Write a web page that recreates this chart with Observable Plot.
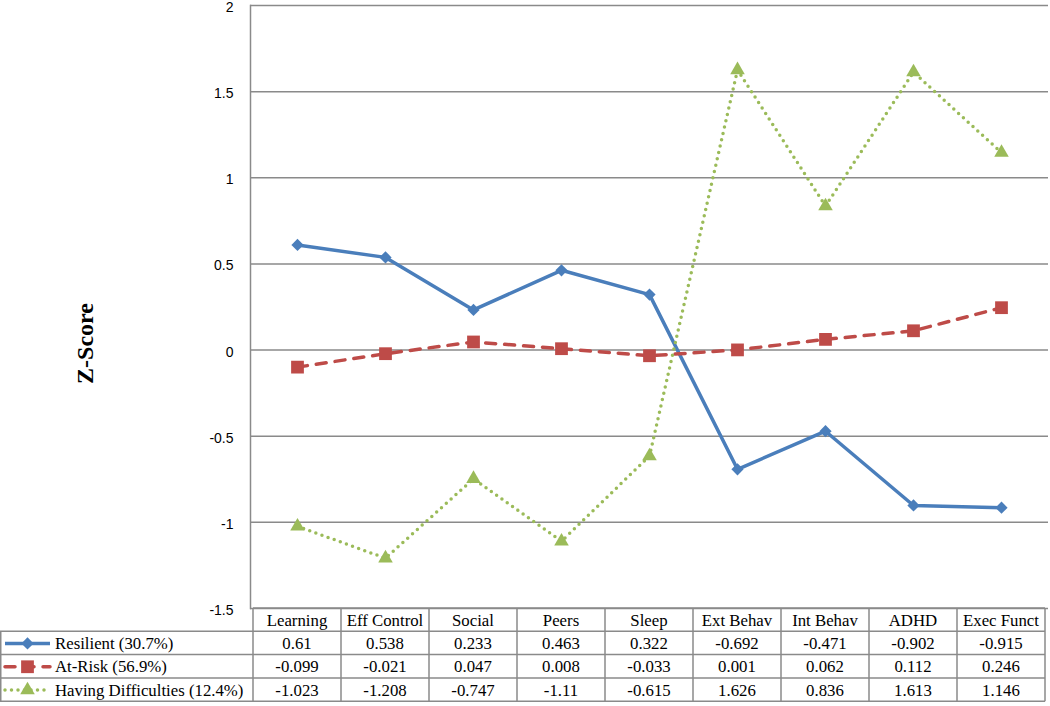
<!DOCTYPE html>
<html><head><meta charset="utf-8">
<script src="https://cdn.jsdelivr.net/npm/d3@7"></script>
<script src="https://cdn.jsdelivr.net/npm/@observablehq/plot@0.6"></script>
<style>body{margin:0;background:#fff} #chart{width:1050px;height:706px}</style>
</head><body><div id="chart"></div>
<script>
const categories = ["Learning","Eff Control","Social","Peers","Sleep","Ext Behav","Int Behav","ADHD","Exec Funct"];
const resilient = [0.61,0.538,0.233,0.463,0.322,-0.692,-0.471,-0.902,-0.915];
const atRisk = [-0.099,-0.021,0.047,0.008,-0.033,0.001,0.062,0.112,0.246];
const difficulties = [-1.023,-1.208,-0.747,-1.11,-0.615,1.626,0.836,1.613,1.146];
const seriesNames = ["Resilient (30.7%)","At-Risk (56.9%)","Having Difficulties (12.4%)"];
const yTicks = [-1.5,-1,-0.5,0,0.5,1,1.5,2];
const yLabel = "Z-Score";

const seriesValues = [resilient, atRisk, difficulties];
const seriesColors = ["#4a7ebb","#be4b48","#9bbb59"];
const seriesSymbols = ["diamond2","square","triangle"];
const symbolTypes = [d3.symbolDiamond2, d3.symbolSquare, d3.symbolTriangle];
const lineStyles = [
  {strokeWidth:3.5},
  {strokeWidth:3.5, strokeDasharray:"10,9", strokeLinecap:"round"},
  {strokeWidth:3.5, strokeDasharray:"0,6.5", strokeLinecap:"round"}
];
const dotR = [5.5, 7.2, 5.4];
const serif = "Liberation Serif, Times New Roman, serif";
const sans = "Liberation Sans, Arial, sans-serif";

const rows = seriesNames.flatMap((s,k)=>categories.map((c,i)=>({series:s,k,cat:c,value:seriesValues[k][i]})));

const marks = [
  Plot.gridY(yTicks, {stroke:"#8a8a8a", strokeOpacity:1, strokeWidth:1.5}),
  Plot.axisY(yTicks, {tickSize:0, tickPadding:17, fontSize:14, fontFamily:sans, fill:"#000", dy:2, tickFormat:d=>String(d), label:null}),
  Plot.frame({anchor:"left", stroke:"#8a8a8a", strokeWidth:1.5}),
  Plot.text([yLabel], {frameAnchor:"left", textAnchor:"middle", lineAnchor:"middle", dx:-165, dy:36.5, rotate:-90, fontSize:24, fontWeight:"bold", fontFamily:serif, fill:"#000"})
];
seriesNames.forEach((s,k)=>{
  marks.push(Plot.line(rows.filter(r=>r.k===k), {x:"cat", y:"value", stroke:seriesColors[k], ...lineStyles[k]}));
});
seriesNames.forEach((s,k)=>{
  marks.push(Plot.dot(rows.filter(r=>r.k===k), {x:"cat", y:"value", symbol:seriesSymbols[k], fill:seriesColors[k], stroke:"none", r:dotR[k]}));
});

const plot = Plot.plot({
  width:1050, height:706,
  marginLeft:250, marginRight:2, marginTop:5, marginBottom:98,
  x:{type:"point", domain:categories, padding:0.5, axis:null},
  y:{domain:[-1.5,2], axis:null},
  style:{background:"#fff", overflow:"visible"},
  marks
});
document.getElementById("chart").appendChild(plot);

// Data table below the plot, positioned with the plot's x scale
(function drawTable(){
  const svg = d3.select(plot);
  const xs = plot.scale("x");
  const X = c => xs.apply(c);
  const step = X(categories[1]) - X(categories[0]);
  const left = X(categories[0]) - step/2, right = X(categories[categories.length-1]) + step/2;
  const tTop = 608, rh = 23.3;
  const g = svg.append("g");
  const gridStroke = "#8a8a8a";
  g.append("line").attr("x1",left).attr("x2",right).attr("y1",tTop).attr("y2",tTop).attr("stroke",gridStroke).attr("stroke-width",1.5);
  for (let k=1;k<=4;k++) {
    g.append("line").attr("x1",0).attr("x2",right).attr("y1",tTop+rh*k).attr("y2",tTop+rh*k).attr("stroke",gridStroke).attr("stroke-width",1.5);
  }
  for (let j=0;j<=categories.length;j++) {
    const xx = left + step*j;
    g.append("line").attr("x1",xx).attr("x2",xx).attr("y1",tTop).attr("y2",tTop+rh*4).attr("stroke",gridStroke).attr("stroke-width",1.5);
  }
  g.append("line").attr("x1",0.75).attr("x2",0.75).attr("y1",tTop+rh).attr("y2",tTop+rh*4).attr("stroke",gridStroke).attr("stroke-width",1.5);

  const txt = (x,y,s,anchor) => g.append("text").attr("x",x).attr("y",y).attr("text-anchor",anchor||"middle")
    .attr("dominant-baseline","central").attr("font-family",serif).attr("font-size",16.8).attr("fill","#000").text(s);
  categories.forEach(c=>txt(X(c), tTop+rh/2+1, c));
  seriesNames.forEach((s,k)=>{
    const cy = tTop + rh*(k+1.5) + 0.5;
    categories.forEach((c,i)=>txt(X(c), cy, String(seriesValues[k][i])));
    txt(55, cy, s, "start");
    const ls = lineStyles[k];
    g.append("line").attr("x1",5).attr("x2",50).attr("y1",cy).attr("y2",cy)
      .attr("stroke",seriesColors[k]).attr("stroke-width",ls.strokeWidth)
      .attr("stroke-dasharray",ls.strokeDasharray||null).attr("stroke-linecap",ls.strokeLinecap||null);
    g.append("path").attr("transform",`translate(27.5,${cy})`)
      .attr("d", d3.symbol(symbolTypes[k], dotR[k]*dotR[k]*Math.PI)())
      .attr("fill",seriesColors[k]);
  });
})();
</script>
</body></html>
